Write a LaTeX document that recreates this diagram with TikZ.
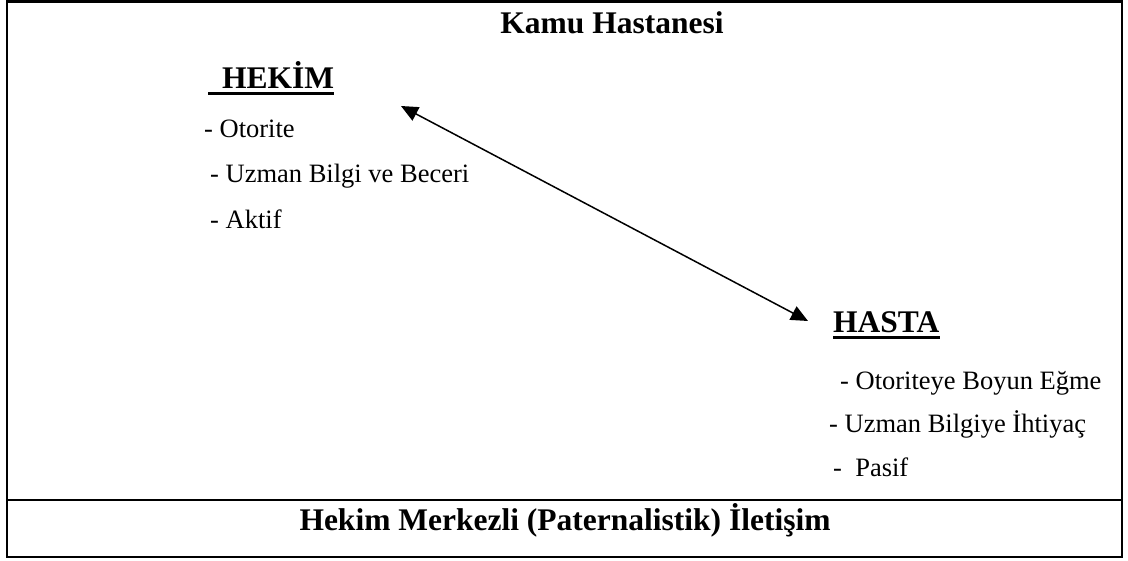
\documentclass[tikz,border=0pt]{standalone}
\usepackage{fontspec}
\setmainfont{Liberation Serif}
\usetikzlibrary{arrows.meta}
\begin{document}
\begin{tikzpicture}[x=1pt,y=-1pt,
  frame/.style={line width=2.2pt},
  title/.style={font=\fontsize{31.5}{36}\selectfont\bfseries, inner sep=0pt, anchor=base},
  head/.style={font=\fontsize{31.5}{36}\selectfont\bfseries, inner sep=0pt, anchor=base west},
  item/.style={font=\fontsize{26.5}{30}\selectfont, inner sep=0pt, anchor=base west},
  uline/.style={line width=3pt},
  link/.style={line width=1.5pt, {Triangle[length=17pt,width=15pt]}-{Triangle[length=17pt,width=15pt]}}]
\useasboundingbox (0,0) rectangle (1128,560);
% frame
\draw[frame] (7,1.5) rectangle (1122,557);
\draw[frame] (7,500) -- (1122,500);
% titles
\node[title] (kamu) at (612,33) {Kamu Hastanesi};
\node[title] (footer) at (565,530) {Hekim Merkezli (Paternalistik) İletişim};
% HEKIM
\node[head] (hekim) at (222,88) {HEKİM};
\draw[uline] ([xshift=-14pt,yshift=-5pt]hekim.base west) -- ([yshift=-5pt]hekim.base east);
\node[item] (h1) at (204,137) {- Otorite};
\node[item] (h2) at (210,182) {- Uzman Bilgi ve Beceri};
\node[item] (h3) at (210,228) {- Aktif};
% HASTA
\node[head] (hasta) at (833,332) {HASTA};
\draw[uline] ([yshift=-5pt]hasta.base west) -- ([yshift=-5pt]hasta.base east);
\node[item] (p1) at (840,389) {- Otoriteye Boyun Eğme};
\node[item] (p2) at (829,432) {- Uzman Bilgiye İhtiyaç};
\node[item] (p3) at (833,476) {-\ \ Pasif};
% arrow
\coordinate (a1) at (401,106);
\coordinate (a2) at (808,321);
\draw[link] (a1) -- (a2);
\end{tikzpicture}
\end{document}
